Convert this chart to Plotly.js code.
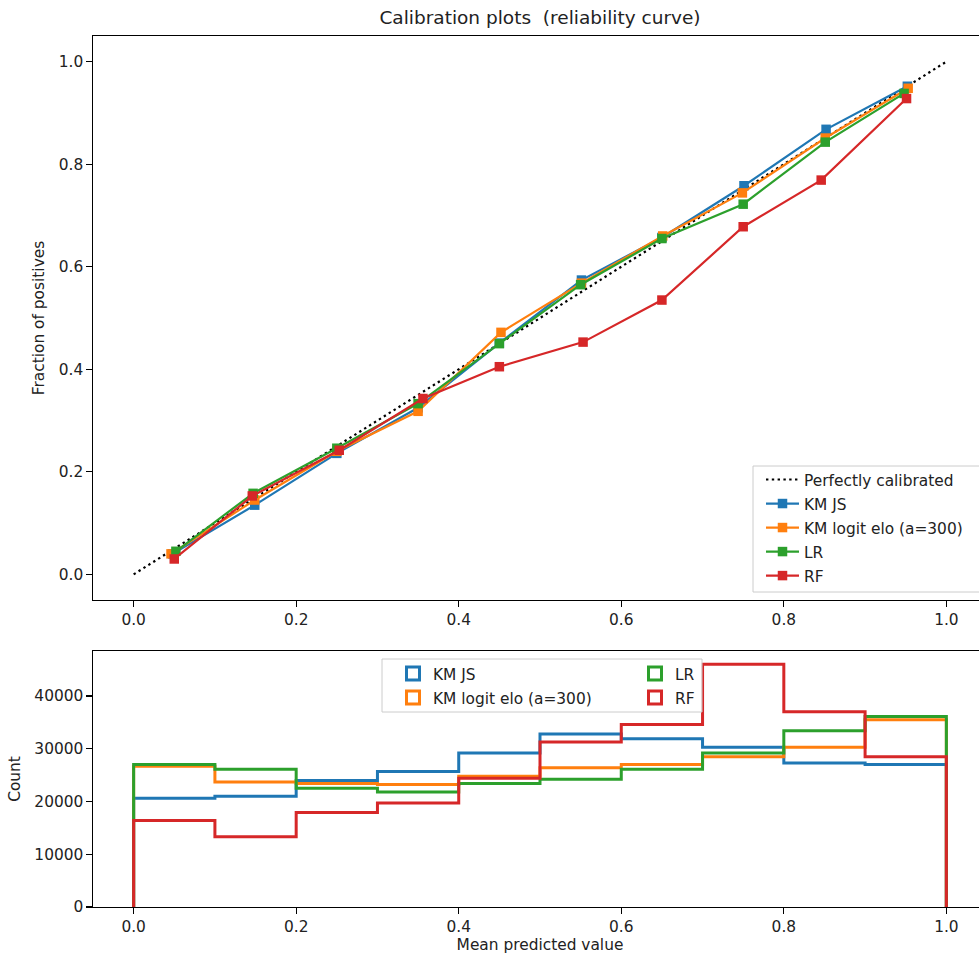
<!DOCTYPE html>
<html>
<head>
<meta charset="utf-8">
<script src="https://cdn.plot.ly/plotly-3.0.1.min.js"></script>
<style>
html, body { margin: 0; padding: 0; overflow: hidden; background: #fff; }
#chart { width: 1000px; height: 957px; }
</style>
</head>
<body>
<div id="chart"></div>
<script>
// ---- Data ----
var seriesNames = ["KM JS", "KM logit elo (a=300)", "LR", "RF"];
var seriesColors = ["#1f77b4", "#ff7f0e", "#2ca02c", "#d62728"];

// Calibration curve: mean predicted value (x) and fraction of positives (y)
var kmjsX   = [0.048, 0.149, 0.250, 0.350, 0.450, 0.551, 0.650, 0.751, 0.852, 0.952];
var kmjsY   = [0.040, 0.135, 0.236, 0.325, 0.451, 0.574, 0.657, 0.758, 0.868, 0.952];
var kmlogX  = [0.046, 0.149, 0.250, 0.350, 0.452, 0.551, 0.651, 0.749, 0.851, 0.953];
var kmlogY  = [0.040, 0.145, 0.240, 0.318, 0.472, 0.568, 0.660, 0.744, 0.851, 0.948];
var lrX     = [0.052, 0.147, 0.250, 0.350, 0.450, 0.550, 0.650, 0.750, 0.851, 0.948];
var lrY     = [0.045, 0.158, 0.246, 0.333, 0.450, 0.565, 0.655, 0.722, 0.843, 0.938];
var rfX     = [0.050, 0.146, 0.253, 0.356, 0.450, 0.553, 0.650, 0.750, 0.846, 0.951];
var rfY     = [0.030, 0.153, 0.242, 0.343, 0.405, 0.453, 0.535, 0.678, 0.769, 0.928];
var perfectX = [0, 1];
var perfectY = [0, 1];

// Histogram of predicted values (counts per bin)
var binEdges   = [0.0, 0.1, 0.2, 0.3, 0.4, 0.5, 0.6, 0.7, 0.8, 0.9, 1.0];
var kmjsCounts = [20600, 21000, 24000, 25700, 29200, 32800, 31900, 30300, 27300, 27000];
var kmlogCounts= [26700, 23700, 23400, 23200, 24800, 26400, 27000, 28500, 30300, 35500];
var lrCounts   = [27000, 26100, 22500, 21800, 23400, 24200, 26100, 29200, 33400, 36100];
var rfCounts   = [16400, 13300, 17900, 19700, 24400, 31300, 34600, 46000, 37000, 28500];

var xTicks = [0, 0.2, 0.4, 0.6, 0.8, 1.0];
var yTicksTop = [0, 0.2, 0.4, 0.6, 0.8, 1.0];
var yTicksBottom = [0, 10000, 20000, 30000, 40000];

// ---- helpers ----
function stepOutline(edges, counts) {
  var xs = [edges[0]], ys = [0];
  for (var i = 0; i < counts.length; i++) { xs.push(edges[i]); ys.push(counts[i]); }
  xs.push(edges[edges.length - 1]); ys.push(counts[counts.length - 1]);
  xs.push(edges[edges.length - 1]); ys.push(0);
  return {x: xs, y: ys};
}

var FONT = "DejaVu Sans";
var TXT = "#222222";
var FS = 15.4;

var curveX = [kmjsX, kmlogX, lrX, rfX];
var curveY = [kmjsY, kmlogY, lrY, rfY];
var counts = [kmjsCounts, kmlogCounts, lrCounts, rfCounts];

var traces = [];
traces.push({
  type: "scatter", mode: "lines", x: perfectX, y: perfectY,
  name: "Perfectly calibrated", xaxis: "x", yaxis: "y", legend: "legend", legendgroup: "p",
  line: {color: "#000000", width: 2.2, dash: "2.4px,3.4px"}
});
for (var k = 0; k < 4; k++) {
  traces.push({
    type: "scatter", mode: "lines+markers", x: curveX[k], y: curveY[k],
    name: seriesNames[k], xaxis: "x", yaxis: "y", legend: "legend", legendgroup: "c" + k,
    line: {color: seriesColors[k], width: 2.2},
    marker: {symbol: "square", size: 9.5, color: seriesColors[k]}
  });
}
// histogram step outlines
for (var k2 = 0; k2 < 4; k2++) {
  var s = stepOutline(binEdges, counts[k2]);
  traces.push({
    type: "scatter", mode: "lines", x: s.x, y: s.y, line: {shape: "hv", color: seriesColors[k2], width: 3},
    name: seriesNames[k2], xaxis: "x2", yaxis: "y2", showlegend: false, hoverinfo: "x+y"
  });
}
// legend entries for histogram (open rectangles), two columns
var colOf = ["legend2", "legend2", "legend3", "legend3"];
for (var k3 = 0; k3 < 4; k3++) {
  traces.push({
    type: "scatter", mode: "markers", x: [null], y: [null], xaxis: "x2", yaxis: "y2",
    name: seriesNames[k3], legend: colOf[k3], legendgroup: "h" + k3, showlegend: true,
    marker: {symbol: "square-open", size: 13, color: seriesColors[k3], line: {width: 3, color: seriesColors[k3]}}
  });
}

var L = 93, W = 894, T = 36, H = 871;
function px(x) { return (x - L) / W; }
function py(y) { return (T + H - y) / H; }

var axisCommon = {
  showgrid: false, zeroline: false, showline: true, mirror: true,
  linecolor: "#000000", linewidth: 1.2, ticks: "outside", ticklen: 5.4,
  tickwidth: 1.2, tickcolor: "#000000",
  tickfont: {family: FONT, size: FS, color: TXT}
};
function ax(extra) { return Object.assign({}, axisCommon, extra); }

var legendCommon = {
  bgcolor: "rgba(0,0,0,0)", borderwidth: 0,
  font: {family: FONT, size: FS, color: TXT},
  orientation: "v", xanchor: "left", yanchor: "top", itemclick: false, itemdoubleclick: false,
  traceorder: "grouped", tracegroupgap: 1
};

var layout = {
  width: 1000, height: 957,
  margin: {l: L, r: 1000 - L - W, t: T, b: 957 - T - H},
  paper_bgcolor: "#ffffff", plot_bgcolor: "#ffffff",
  font: {family: FONT, size: FS, color: TXT},
  title: {text: "Calibration plots  (reliability curve)", font: {family: FONT, size: 18.5, color: TXT},
          x: 0.5, xref: "paper", xanchor: "center", y: 1 - 18 / 957, yanchor: "middle"},
  xaxis: ax({domain: [0, 1], range: [-0.05, 1.05], anchor: "y", tickvals: xTicks, tickformat: ".1f"}),
  yaxis: ax({domain: [py(600), 1], range: [-0.05, 1.05], anchor: "x", tickvals: yTicksTop, tickformat: ".1f",
             title: {text: "Fraction of positives", font: {family: FONT, size: FS, color: TXT}, standoff: 10}}),
  xaxis2: ax({domain: [0, 1], range: [-0.05, 1.05], anchor: "y2", tickvals: xTicks, tickformat: ".1f",
             title: {text: "Mean predicted value", font: {family: FONT, size: FS, color: TXT}, standoff: 4}}),
  yaxis2: ax({domain: [0, py(651)], range: [0, 48530], anchor: "x2", tickvals: yTicksBottom, tickformat: "d",
             title: {text: "Count", font: {family: FONT, size: FS, color: TXT}, standoff: 10}}),
  legend: Object.assign({}, legendCommon, {x: px(761), y: py(463), itemwidth: 33}),
  legend2: Object.assign({}, legendCommon, {x: px(393), y: py(657)}),
  legend3: Object.assign({}, legendCommon, {x: px(635), y: py(657)}),
  shapes: [
    {type: "rect", xref: "paper", yref: "paper", x0: px(753), x1: px(990), y0: py(592), y1: py(466),
     line: {color: "#cccccc", width: 1}, fillcolor: "rgba(255,255,255,0.8)", layer: "above"},
    {type: "rect", xref: "paper", yref: "paper", x0: px(382), x1: px(702), y0: py(712), y1: py(659),
     line: {color: "#cccccc", width: 1}, fillcolor: "rgba(255,255,255,0.8)", layer: "above"}
  ],
  showlegend: true
};

Plotly.newPlot("chart", traces, layout, {displayModeBar: false, staticPlot: true});
</script>
</body>
</html>
